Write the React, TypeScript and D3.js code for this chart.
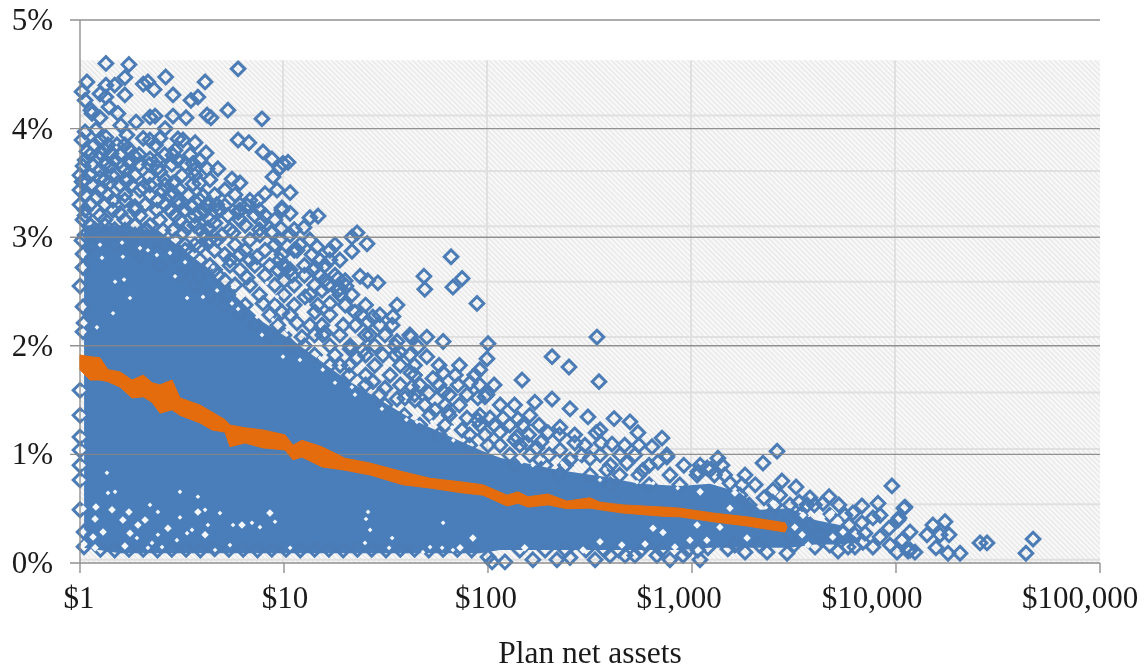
import React from "react";
import * as d3 from "d3";

const W = 1146, H = 671;
const left = 80, right = 1100, top = 20, bottom = 563;

const yTicks = [0, 1, 2, 3, 4, 5];
const xTicks = [1, 10, 100, 1000, 10000, 100000];
const xTickLabels = ["$1", "$10", "$100", "$1,000", "$10,000", "$100,000"];
const xLabelNudge = [-1, 1, -2, -13, -24, -20];
const backdropTopPct = 4.63;
const backdropRules = [4.12, 3.61, 3.1, 2.59, 2.08, 1.57, 1.05, 0.54, 0.03];

// [log10 of plan net assets, percent]
const upperLeftPoints: [number, number][] = [
[.127,4.6],[.24,4.59],[.034,4.43],[.01,4.34],[.22,4.47],[.17,4.4],[.127,4.4],[.098,4.32],[.31,4.41],[.333,4.43],[.363,4.36],[.42,4.475],[.456,4.31],[.544,4.26],[.578,4.29],[.613,4.43],[.775,4.55],[.725,4.17],[.892,4.09],[.623,4.125],[.642,4.1],[.775,3.895],[.828,3.87],[.897,3.785],[.941,3.72],[.98,3.64],[1.02,3.69],[.995,3.68],[.946,3.555],[.745,3.535],[.784,3.5],[.676,3.63],[.623,3.63],[.618,3.775],[.554,3.68],[.588,3.71],[.48,3.905],[.564,3.87],[.505,3.895],[.52,4.1],[.456,4.115],[.368,4.115],[.343,4.105],[.275,4.06],[.22,4.31],[.142,4.2],[.098,4.1],[.059,4.14],[.025,4.26],[.054,4.17],[.127,4.29],[.186,4.14],[.2,4.03],[.127,3.92],[.31,3.91],[.417,4],[.23,3.94],[.392,3.91],[.456,3.755],[.382,3.64],[.343,3.72],[.245,3.68],[.152,3.65],[.22,3.53],[.01,3.895],[.025,3.97],[.034,3.79],[.093,3.73],[.015,3.655],[.152,3.77],[.181,3.85],[.27,3.74],[.338,3.56],[.392,3.6],[.456,3.5],[.407,3.425],[.554,3.49],[.588,3.5],[.48,3.34],[.603,3.38],[.71,3.29],[.67,3.3],[.627,3.31],[.907,3.4],[.966,3.435],[1.03,3.41],[.99,3.27],[1.03,3.22],[.892,3.14],[.775,3.23],[.819,3.29],[.873,3.34],[.941,3.05],[.985,3.08],[1.127,3.18],[1.098,3.09],[1.167,3.195],[.078,3.99],
];
const upperLatticePoints: [number, number][] = [
[.255,3.48],[.456,3.41],[.01,3.51],[.098,3.545],[.206,3.65],[.235,3.82],[.098,3.775],[.623,3.3],[.627,3.085],[.549,3.28],[.686,3.25],[.456,3.065],[.784,3.25],[.672,2.975],[.75,3.04],[.525,3.09],[.31,3.46],[.27,3.28],[.162,3.34],[.083,3.37],[.147,3.5],[.196,3.22],[.377,3.25],[.407,3.065],[.328,3.065],[.588,2.91],[.22,3.065],[.123,3.11],[.485,3.3],[.544,3.29],[.68,3.26],[.78,3.24],[.99,3.25],[.505,3.04],[.632,3.075],[.588,3.22],[.662,3.13],[.515,2.93],[.623,2.95],[.809,2.88],[.868,2.82],[.941,3.04],[.995,2.74],[.735,2.74],[.819,2.63],[1.142,2.7],[1.2,2.605],[.897,2.39],[1.2,2.12],
[.07,3.85],[.137,3.85],[.22,3.85],[.37,3.85],[.05,3.76],[.196,3.76],[.29,3.76],[.415,3.76],[.54,3.76],[.06,3.67],[.12,3.67],[.29,3.67],[.34,3.67],[.45,3.67],[.515,3.67],[.05,3.57],[.157,3.57],[.27,3.57],[.5,3.57],[.563,3.57],[.06,3.48],[.196,3.48],[.343,3.48],[.417,3.48],[.025,3.39],[.137,3.39],[.22,3.39],[.343,3.39],[.44,3.39],[.53,3.39],[.66,3.39],[.76,3.39],[.05,3.3],[.122,3.3],[.32,3.3],[.417,3.3],[.784,3.3],[.025,3.2],[.098,3.2],[.294,3.2],[.466,3.2],[.563,3.2],[.725,3.2],[.857,3.2],[.907,3.2],[.05,3.11],[.27,3.11],[.343,3.11],[.563,3.11],[.81,3.11],[.025,3.02],[.122,3.02],[.186,3.02],[.27,3.02],[.613,3.02],[.696,3.02],[.882,3.02],[1.03,3.02],[.06,2.93],[.17,2.93],[.245,2.93],[.343,2.93],[.417,2.93],[.563,2.93],[.76,2.93],[.955,2.93],[1.078,2.93],
[.098,3.895],[.343,3.895],[.122,3.8],[.245,3.8],[.466,3.8],[.025,3.71],[.17,3.71],[.245,3.71],[.38,3.71],[.48,3.71],[.098,3.62],[.22,3.62],[.563,3.62],[.025,3.53],[.122,3.53],[.235,3.53],[.417,3.53],[.637,3.53],[.098,3.435],[.294,3.435],[.49,3.435],[.71,3.435],[.22,3.34],[.38,3.34],[.588,3.34],[.833,3.34],[.025,3.25],[.162,3.25],[.27,3.25],[.44,3.25],[.515,3.25],[.613,3.25],[.88,3.25],[.122,3.16],[.22,3.16],[.39,3.16],[.49,3.16],[.637,3.16],[.784,3.16],[.955,3.16],[.073,3.07],[.17,3.07],[.32,3.07],[.588,3.07],[.735,3.07],[.88,3.07],[1.05,3.07],[.098,2.975],[.22,2.975],[.466,2.975],[.637,2.975],[.833,2.975],[.98,2.975],[1.127,2.975],[.27,2.88],[.515,2.88],[.66,2.88],[.907,2.88],[1.05,2.88],[1.225,2.88],[.588,2.79],[.735,2.79],[.833,2.79],[.98,2.79],[1.176,2.79],[1.274,2.79],[.66,2.7],[.784,2.7],[1.03,2.7],[.71,2.6],[1,2.6],[1.3,2.6],
];
const bandPoints: [number, number][] = [
[.294,2.84],[.466,2.84],[.71,2.84],[.784,2.84],[.99,2.84],[1.137,2.84],[.39,2.74],[.54,2.74],[.637,2.74],[.857,2.74],[.93,2.74],[1.1,2.74],[1.2,2.74],[.49,2.65],[.588,2.65],[.676,2.65],[.907,2.65],[1.1,2.65],[1.176,2.65],[1.25,2.65],[.563,2.56],[.76,2.56],[.833,2.56],[.955,2.56],[1.05,2.56],[1.15,2.56],[1.215,2.56],[.637,2.47],[.725,2.47],[.88,2.47],[1,2.47],[1.127,2.47],[1.274,2.47],[1.333,2.47],[.71,2.375],[.81,2.375],[.955,2.375],[1.05,2.375],[1.166,2.375],[1.3,2.375],[1.4,2.375],[.784,2.285],[.93,2.285],[1.03,2.285],[1.225,2.285],[1.38,2.285],[1.47,2.285],[.857,2.19],[.97,2.19],[1.127,2.19],[1.186,2.19],[1.35,2.19],[1.47,2.19],[1.53,2.19],[.93,2.1],[1,2.1],[1.15,2.1],[1.274,2.1],[1.4,2.1],[1.495,2.1],[1.617,2.1],[1.03,2],[1.1,2],[1.225,2],[1.324,2],[1.445,2],[1.545,2],[1.15,1.915],[1.25,1.915],[1.4,1.915],[1.545,1.915],[1.617,1.915],[1.225,1.82],[1.32,1.82],[1.445,1.82],[1.57,1.82],[1.64,1.82],[1.76,1.82],[1.86,1.82],[1.32,1.73],[1.4,1.73],[1.52,1.73],[1.64,1.73],[1.84,1.73],[1.935,1.73],[1.4,1.64],[1.57,1.64],[1.666,1.64],[1.76,1.64],[1.96,1.64],[2.03,1.64],[1.47,1.55],[1.64,1.55],[1.81,1.55],[1.495,1.455],[1.69,1.455],[1.79,1.455],[1.86,1.455],[2.06,1.455],[2.13,1.455],[1.59,1.36],[1.715,1.36],[1.81,1.36],[1.96,1.36],[2.205,1.36],[1.666,1.27],[1.79,1.27],[1.96,1.27],[2.03,1.27],[2.107,1.27],[2.25,1.27],[1.76,1.18],[1.91,1.18],[1.985,1.18],[2.2,1.18],[2.35,1.18],[2.425,1.18],[1.91,1.085],[2,1.085],[2.156,1.085],[2.475,1.085],[2.67,1.085],[2.74,1.085],[2.107,.995],[2.205,.995],[2.3,.995],[2.55,.995],[2.72,.995],[2.13,.9],[2.28,.9],[2.38,.9],[2.6,.9],[2.79,.9],[2.96,.9],[3.04,.9],[2.35,.81],[2.5,.81],[2.646,.81],[2.74,.81],[3.11,.81],[3.16,.81],[3.26,.81],[2.6,.72],[2.79,.72],[2.94,.72],[3.31,.72],[3.235,.625],[3.43,.625],[3.28,.535],[3.406,.535],[3.48,.535],[3.6,.535],[3.72,.535],[3.38,.44],[3.53,.44],[3.675,.44],[3.75,.44],[3.455,.35],[3.58,.35],[3.77,.35],[3.48,.26],[3.626,.26],[3.8,.26],[3.21,.165],[3.33,.165],[3.5,.165],[3.675,.165],
[2.156,.12],[2.28,.12],[2.38,.12],[2.48,.12],[2.57,.12],[2.64,.12],[2.75,.12],[2.85,.12],[2.98,.12],
];
const leftColumnPoints: [number, number][] = [
[0,3.57],[0,3.435],[0,3.3],[.015,3.16],[.01,2.97],[.015,2.845],[.015,2.72],[0,2.55],[.015,2.36],[.02,2.21],[.015,2.13],[0,1.59],[0,1.36],[0,1.16],[0,1.04],[0,.9],[0,.765],[0,.49],[.02,.285],[.02,.15],
];
const midFringePoints: [number, number][] = [
[1.358,3.04],[1.333,3],[1.407,2.94],[1.333,2.87],[1.25,2.93],[1.162,2.91],[1.064,2.88],[1.225,2.79],[1.373,2.64],[1.46,2.58],[1.41,2.6],[1.265,2.62],[1.304,2.55],[1.265,2.51],[1.152,2.72],[1.04,2.65],[1.005,2.735],[.97,2.7],[1.819,2.82],[1.873,2.62],[1.828,2.54],[1.686,2.64],[1.69,2.52],[1.946,2.39],[1.554,2.375],[1.534,2.27],[1.348,2.31],[1.412,2.22],[1.436,2.265],[2.534,2.08],[1.78,2.04],[1.7,2.08],[1.622,2.08],[1.554,2.04],[1.657,1.99],[1.7,1.9],[1.569,1.94],[1.422,2.1],[1.387,1.96],[1.485,1.915],[2,2.02],[1.995,1.88],[1.96,1.78],[2.314,1.9],[2.397,1.805],[2.544,1.67],[2.167,1.685],[2.23,1.48],[2.314,1.51],[2.402,1.42],[2.49,1.345],[2.618,1.33],[2.696,1.3],[2.735,1.2],[2.853,1.15],[2.804,1.07],[2.353,1.25],[2.294,1.2],[2.426,1.105],[2.53,1.2],[2.549,1.225],[2.608,1.095],[2.074,1.335],[2.147,1.325],[2.17,1.27],[1.985,1.53],[1.912,1.66],[1.78,1.75],[1.73,1.7],[1.853,1.64],[1.78,1.58],[1.71,1.565],[1.897,1.335],[2.877,.995],
[1.275,2.53],[1.29,2.19],[1.324,1.97],[1.358,1.89],[1.275,1.82],[1.19,2.1],[1.088,2.08],[1.103,2.45],[1.186,2.51],[1.152,2.31],[.99,2.31],[1.064,2.21],[1.225,2.39],[1.436,1.67],[1.495,1.61],[1.622,1.75],[1.627,1.62],[1.995,1.55],[1.95,1.52],[1.897,1.55],[1.74,1.41],[1.642,1.5],[1.593,1.52],[1.554,1.51],[2.142,1.16],[2.19,1.105],[2.24,1.06],[2.059,1.205],[2.01,1.335],[1.95,1.315],[1.804,1.39],[1.873,1.225],
];
const lowerFringePoints: [number, number][] = [
[2.26,1.115],[2.554,1.105],[2.647,.995],[2.877,.975],[2.833,.93],[2.76,.855],[2.681,.92],[2.583,.855],[2.892,.81],[3.029,.84],[3.074,.875],[2.46,.995],[2.5,.965],[2.353,1.04],[2.132,1.13],[2.059,1.085],[2.402,.95],[2.255,.95],
[3.127,.965],[3.093,.865],[3.147,.9],[3.348,.92],[3.417,1.03],[3.025,.81],[3.186,.735],[3.245,.72],[3.353,.6],[3.397,.67],[3.441,.755],[3.51,.7],[3.525,.56],[3.578,.6],[3.564,.535],[3.672,.61],[3.642,.55],[3.98,.71],[3.789,.46],[3.833,.525],[3.912,.55],[3.887,.415],[3.833,.37],[3.922,.44],[4.044,.515],[4.015,.415],[3.966,.32],[4.069,.285],[3.922,.24],[4.181,.35],[4.152,.26],[4.196,.14],[3.971,.165],[4.029,.21],[3.887,.147],[4.005,.1],[4.069,.12],[4.093,.1],[3.799,.147],[3.716,.11],[3.603,.147],[3.466,.09],[3.368,.1],[3.26,.1],[3.176,.13],[3.039,.03],[2.956,.07],[3.029,.12],[3.078,.14],[3.691,.275],[3.74,.285],[3.765,.147],[3.838,.19],[3.848,.275],[4.039,.505],[4.01,.395],[4.24,.38],[4.216,.26],[4.26,.26],[4.255,.09],[4.314,.09],[4.412,.185],[4.446,.185],[4.672,.22],[4.637,.09],[4.059,.11],
[2,.055],[2.02,.01],[2.083,.01],[2.22,.03],[2.338,.03],[2.402,.05],[2.525,.03],[2.598,.07],[2.672,.07],[2.72,.07],[2.77,.175],[2.828,.07],[2.892,.03],
];
const baselinePoints: [number, number][] = [
[.1,.125],[.17,.12],[.24,.125],[.31,.125],[.38,.12],[.45,.125],[.52,.125],[.59,.12],[.66,.13],[.73,.125],[.8,.125],[.87,.12],[.94,.125],[1.01,.125],[1.08,.12],[1.15,.125],[1.22,.125],[1.29,.12],[1.36,.125],[1.43,.125],[1.5,.12],[1.57,.125],[1.64,.125],[1.71,.12],[1.78,.125],[1.85,.125],[1.92,.12],
];

// the part of the cloud where markers merge into solid colour
const coreLog = [.02,.196,.392,.588,.784,.897,1.078,1.309,1.632,1.961,2.059,2.157,2.353,2.549,2.745,2.941,3.088,3.235,3.333,3.48,3.603,3.725,3.824];
const coreTop = [3.11,3.11,3.05,2.77,2.42,2.22,2,1.685,1.32,1.04,.97,.93,.855,.8,.73,.71,.73,.65,.49,.505,.395,.35,.21];
const coreBottom = [.14,.09,.09,.09,.09,.09,.09,.09,.09,.09,.12,.12,.12,.12,.12,.12,.14,.14,.14,.14,.17,.17,.195];

// spots inside the solid part where the background still shows through
const openingsLarge: [number, number][] = [
[.078,.515],[.157,.49],[.24,.47],[.015,.5],[.074,.405],[.21,.395],[.284,.35],[.245,.275],[.113,.285],[.015,.285],[.064,.24],[.02,.175],[.074,.14],[.22,.157],[.431,.32],[.613,.26],[.931,.46],[.794,.35],[.578,.47],[.319,.395],
[.015,2.845],[.015,2.72],[.015,2.36],[.02,2.21],[.015,2.13],[.01,1.59],[.01,1.36],[.01,1.16],[.01,1.04],[.01,.9],[.01,.765],[2.809,.32],[2.858,.28],
[1.926,.23],[1.863,.14],[2.18,.14],[2.466,.12],[2.549,.195],[2.656,.165],[2.77,.175],[2.916,.147],[2.99,.21],[3.073,.21],[3.03,.12],
[3.186,.505],[3.137,.33],[3.025,.35],[3.04,.655],[3.21,.645],[3.27,.23],[3.397,.55],[3.407,.655],[3.544,.44],[3.504,.33],[3.54,.26],[3.636,.42],[3.57,.165],[3.69,.24],[3.74,.285],[3.716,.395],[3.685,.46],
];
const openingsSmall: [number, number][] = [
[.108,2.81],[.21,2.82],[.172,2.59],[.216,2.61],[.245,2.44],[.162,2.3],[.083,2.17],[.466,2.64],[.515,2.77],[.603,2.45],[.525,2.44],[.745,2.39],[.775,2.34],[.868,2.265],[.946,2.24],[.892,2.1],[1.015,2.145],[.441,2.855],[.377,2.835],[.333,2.88],[.294,2.9],[.098,2.93],[.206,2.95],[.652,2.725],[.75,2.54],[.672,2.51],[.917,2.58],[.966,2.45],
[1.412,.47],[1.402,.405],[1.422,.305],[1.397,.185],[1.515,.14],[1.53,.23],[1.78,.37],[1.926,.22],[1.716,.147],[1.775,.14],[1.828,.12],[1.681,.1],
[.132,.83],[.172,.655],[.137,.645],[.49,.655],[.578,.61],[.686,.46],[.613,.49],[.75,.35],[.843,.37],[.882,.33],[.956,.38],[.475,.21],[.525,.275],[.333,.14],[.402,.147],[.662,.12],[.735,.165],[1.03,.14],[.343,.535],[.382,.47],[.382,.26],[.353,.185],[.279,.23],[.49,.42],[.549,.305],[.627,.35],
[1.348,1.55],[1.333,1.62],[1.48,1.42],[1.6,1.32],[1.652,1.3],[1.725,1.3],[1.824,1.25],[1.83,1.13],[1.19,1.78],[1.25,1.66],[1.078,1.87],[.995,1.9],[1.176,1.89],
[2.167,.93],[2.22,.9],[2.27,.95],[2.363,.92],[2.45,.97],[2.549,.765],[2.573,.865],[2.73,.745],[2.81,.735],[2.93,.69],
];

// orange median band, upper and lower edge
const medianLog = [0,.049,.098,.137,.196,.255,.31,.353,.392,.451,.49,.588,.647,.711,.735,.809,.897,1.005,1.044,1.088,1.186,1.299,1.422,1.583,1.716,1.877,1.975,2.093,2.147,2.196,2.294,2.387,2.5,2.549,2.662,2.858,2.941,3.103,3.27,3.456,3.466];
const medianHigh = [1.915,1.9,1.89,1.78,1.76,1.685,1.73,1.66,1.64,1.685,1.52,1.455,1.39,1.32,1.27,1.245,1.225,1.18,1.085,1.13,1.07,.965,.92,.84,.78,.745,.72,.625,.655,.61,.635,.57,.6,.56,.535,.515,.505,.46,.425,.37,.33];
const medianLow = [1.78,1.685,1.685,1.67,1.62,1.52,1.53,1.48,1.38,1.41,1.36,1.29,1.225,1.205,1.07,1.105,1.06,1.04,.95,.975,.885,.855,.81,.72,.69,.645,.625,.525,.55,.515,.535,.5,.505,.49,.46,.43,.425,.38,.34,.285,.33];

const x = d3.scaleLog().domain([1, 100000]).range([left, right]);
const y = d3.scaleLinear().domain([0, 5]).range([bottom, top]);
const fromLog = (e: number) => x(Math.pow(10, e));

const diamond = d3.symbol(d3.symbolDiamond2, 118)()!;
const openLarge = d3.symbol(d3.symbolDiamond2, 36)()!;
const openSmall = d3.symbol(d3.symbolDiamond2, 14)()!;

const coreArea = d3.area<number>()
  .x((d) => fromLog(d))
  .y0((_, i) => y(coreBottom[i]))
  .y1((_, i) => y(coreTop[i]));
const medianArea = d3.area<number>()
  .x((d) => fromLog(d))
  .y0((_, i) => y(medianLow[i]))
  .y1((_, i) => y(medianHigh[i]));

const allPoints = [...upperLeftPoints, ...upperLatticePoints, ...bandPoints, ...leftColumnPoints, ...midFringePoints, ...lowerFringePoints, ...baselinePoints];
const serif = "'Liberation Serif', 'Times New Roman', serif";
const BLUE = "#4a7ebb";
const EDGE = "#4b7cb6";
const GRID = "#858585";

export default function App() {
  return (
    <svg width={W} height={H} viewBox={`0 0 ${W} ${H}`} style={{ position: "absolute", left: 0, top: 0, background: "#fff" }} fontFamily={serif}>
      <defs>
        <pattern id="hatch" width="3.6" height="3.6" patternUnits="userSpaceOnUse" patternTransform="rotate(-45)">
          <rect width="3.6" height="3.6" fill="#f9f9f9" />
          <rect width="1.4" height="3.6" fill="#e7e7e7" />
        </pattern>
        <filter id="soft" x="-2%" y="-2%" width="104%" height="104%">
          <feGaussianBlur stdDeviation="0.5" />
        </filter>
      </defs>

      <rect x={left} y={y(backdropTopPct)} width={right - left} height={bottom - y(backdropTopPct)} fill="url(#hatch)" />
      <g stroke="#e0e0e0" strokeWidth={2} filter="url(#soft)">
        {backdropRules.map((p) => <line key={p} x1={left} x2={right} y1={y(p)} y2={y(p)} />)}
        {xTicks.slice(1, 5).map((t) => <line key={t} x1={x(t) - 1} x2={x(t) - 1} y1={y(backdropTopPct)} y2={bottom} />)}
      </g>

      <g filter="url(#soft)">
        <path d={coreArea(coreLog)!} fill={BLUE} />
        <g fill="none" stroke={EDGE} strokeWidth={3}>
          {allPoints.map(([e, p], i) => <path key={i} d={diamond} transform={`translate(${fromLog(e)},${y(p)})`} />)}
        </g>
        <g fill="#f4f8fc">
          {openingsLarge.map(([e, p], i) => <path key={i} d={openLarge} transform={`translate(${fromLog(e)},${y(p)})`} />)}
          {openingsSmall.map(([e, p], i) => <path key={i} d={openSmall} transform={`translate(${fromLog(e)},${y(p)})`} />)}
        </g>
      </g>

      <g stroke={GRID} strokeWidth={1.4} opacity={0.9}>
        {yTicks.map((t) => <line key={t} x1={left - 10} x2={right} y1={y(t)} y2={y(t)} />)}
        <line x1={left} x2={left} y1={top} y2={bottom} />
        {xTicks.map((t) => <line key={t} x1={x(t)} x2={x(t)} y1={bottom} y2={bottom + 10} />)}
      </g>

      <path d={medianArea(medianLog)!} fill="#e46c0a" stroke="#e46c0a" strokeWidth={1} filter="url(#soft)" />

      <g fill="#1a1a1a" fontSize={31}>
        {yTicks.map((t) => <text key={t} x={53} y={y(t) + 10} textAnchor="end">{t}%</text>)}
        {xTicks.map((t, i) => <text key={t} x={x(t) + xLabelNudge[i]} y={608} textAnchor="middle">{xTickLabels[i]}</text>)}
        <text x={590} y={663} textAnchor="middle" fontSize={31.5}>Plan net assets</text>
      </g>
    </svg>
  );
}
